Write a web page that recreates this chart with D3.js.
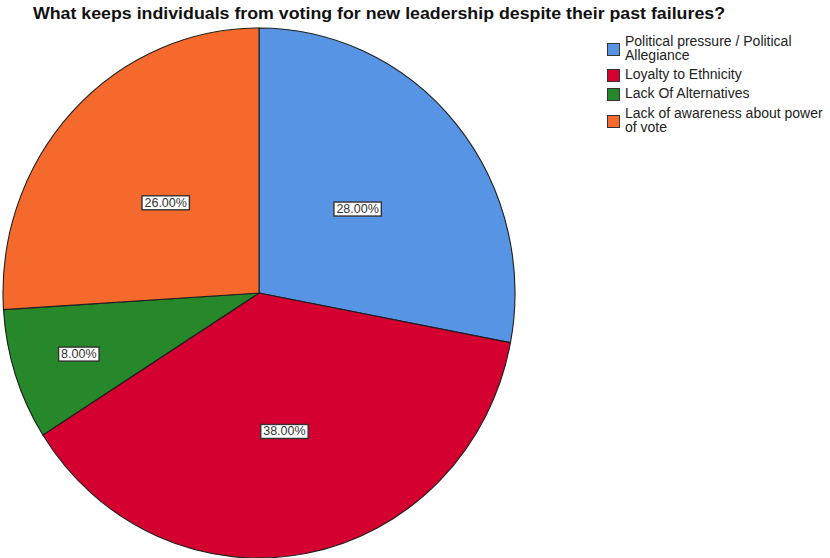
<!DOCTYPE html>
<html>
<head>
<meta charset="utf-8">
<script src="https://cdn.jsdelivr.net/npm/d3@7"></script>
<style>
  html, body { margin: 0; padding: 0; background: #fff; overflow: hidden; }
  svg { display: block; font-family: "Liberation Sans", Arial, sans-serif; }
</style>
</head>
<body>
<svg id="chart" width="830" height="558"></svg>
<script>
// Survey responses (percent of respondents)
const categories = [
  "Political pressure / Political Allegiance",
  "Loyalty to Ethnicity",
  "Lack Of Alternatives",
  "Lack of awareness about power of vote"
];
const values = [28, 38, 8, 26];
const legendLines = [
  ["Political pressure / Political", "Allegiance"],
  ["Loyalty to Ethnicity"],
  ["Lack Of Alternatives"],
  ["Lack of awareness about power", "of vote"]
];
const colors = ["#5894E4", "#D4002F", "#27882B", "#F56A2C"];
const title = "What keeps individuals from voting for new leadership despite their past failures?";

const svg = d3.select("#chart");

// Title
svg.append("text")
  .attr("x", 33)
  .attr("y", 19)
  .attr("font-size", 17)
  .attr("font-weight", "bold")
  .attr("fill", "#111")
  .attr("textLength", 692)
  .attr("lengthAdjust", "spacingAndGlyphs")
  .text(title);

// Pie (slightly taller than wide)
const cx = 259, cy = 293, rx = 256, ry = 265;
const r = rx;
const yScale = ry / rx;

const pie = d3.pie().sort(null).value(d => d.value);
const data = pie(categories.map((c, i) => ({ name: c, value: values[i], color: colors[i] })));
const arc = d3.arc().innerRadius(0).outerRadius(r);

const pieG = svg.append("g")
  .attr("transform", `translate(${cx},${cy}) scale(1,${yScale})`);

pieG.selectAll("path")
  .data(data)
  .join("path")
  .attr("d", arc)
  .attr("fill", d => d.data.color)
  .attr("stroke", "#1f1f1f")
  .attr("stroke-width", 1.1)
  .attr("vector-effect", "non-scaling-stroke");

// Value labels: small slices are pushed outward
const fmt = d3.format(".2f");
const labelG = svg.append("g");
data.forEach(d => {
  const share = d.data.value / d3.sum(values);
  const frac = share < 0.1 ? 0.74 : (share > 0.35 ? 0.53 : 0.5);
  const [lx, ly] = d3.arc().innerRadius(0).outerRadius(2 * r * frac).centroid(d);
  const px = cx + lx, py = cy + ly * yScale;
  const g = labelG.append("g").attr("transform", `translate(${px},${py})`);
  const t = g.append("text")
    .attr("text-anchor", "middle")
    .attr("dy", "0.36em")
    .attr("font-size", 12.5)
    .attr("fill", "#333")
    .text(fmt(d.data.value) + "%");
  const bb = t.node().getBBox();
  g.insert("rect", "text")
    .attr("x", bb.x - 2.5)
    .attr("y", bb.y)
    .attr("width", bb.width + 5)
    .attr("height", bb.height)
    .attr("fill", "#fff")
    .attr("stroke", "#333")
    .attr("stroke-width", 1.4);
});

// Legend
const legend = svg.append("g").attr("transform", "translate(607,0)");
const itemTops = [35, 68, 87, 107];
const lineH = 14;
legendLines.forEach((lines, i) => {
  const top = itemTops[i];
  const blockH = lines.length * lineH;
  const sw = 12;
  legend.append("rect")
    .attr("x", 0.5)
    .attr("y", top + blockH / 2 - sw / 2 + 0.5)
    .attr("width", sw)
    .attr("height", sw)
    .attr("fill", colors[i])
    .attr("stroke", "#333")
    .attr("stroke-width", 1);
  lines.forEach((ln, j) => {
    legend.append("text")
      .attr("x", 18)
      .attr("y", top + j * lineH + 11)
      .attr("font-size", 14)
      .attr("fill", "#222")
      .text(ln);
  });
});
</script>
</body>
</html>
